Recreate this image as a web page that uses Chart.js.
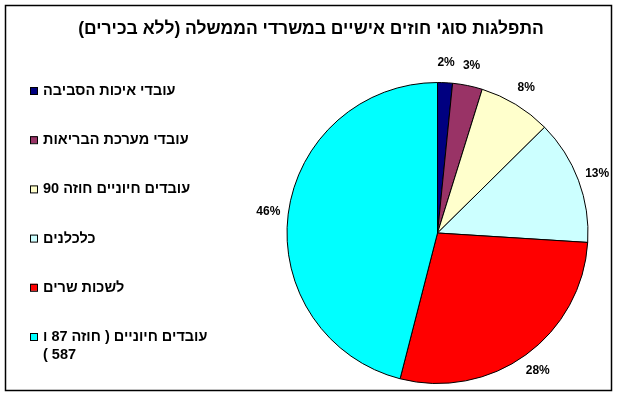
<!DOCTYPE html>
<html lang="he">
<head>
<meta charset="UTF-8" />
<title>התפלגות סוגי חוזים אישיים</title>
<script src="https://cdn.jsdelivr.net/npm/chart.js"></script>
<style>
  html, body { margin: 0; padding: 0; background: #fff; }
  canvas { display: block; direction: rtl; }
</style>
</head>
<body>
<canvas id="pie" width="619" height="397"></canvas>
<script>
const title = "התפלגות סוגי חוזים אישיים במשרדי הממשלה (ללא בכירים)";
const labels = [
  "עובדי איכות הסביבה",
  "עובדי מערכת הבריאות",
  "עובדים חיוניים חוזה 90",
  "כלכלנים",
  "לשכות שרים",
  "עובדים חיוניים ( חוזה 87 ו 587 )"
];
const shares = [1.6, 3.2, 7.8, 13.4, 28.0, 46.0];
const colors = ["#000080", "#993366", "#FFFFCC", "#CCFFFF", "#FF0000", "#00FFFF"];

const FONT = "Arial, 'Liberation Sans', sans-serif";

// title, frame, legend on the left and % labels round the pie
const decorations = {
  id: "decorations",
  beforeDraw(chart) {
    const ctx = chart.ctx;
    ctx.save();
    ctx.fillStyle = "#fff";
    ctx.fillRect(0, 0, chart.width, chart.height);
    ctx.restore();
  },
  afterDraw(chart) {
    const ctx = chart.ctx;
    ctx.save();
    ctx.strokeStyle = "#000";
    ctx.lineWidth = 1.5;
    ctx.strokeRect(5.5, 5.5, 606, 385);

    ctx.direction = "rtl";
    ctx.fillStyle = "#000";
    ctx.textBaseline = "middle";
    ctx.font = "bold 17.5px " + FONT;
    ctx.textAlign = "center";
    ctx.fillText(title, 311, 29);

    // legend
    ctx.font = "bold 14.5px " + FONT;
    ctx.textAlign = "left";
    labels.forEach((txt, i) => {
      const y = 91 + i * 49.2;
      ctx.fillStyle = colors[i];
      ctx.fillRect(30, y - 4, 7, 7);
      ctx.strokeStyle = "#000";
      ctx.lineWidth = 1;
      ctx.strokeRect(30.5, y - 3.5, 7, 7);
      ctx.fillStyle = "#000";
      const words = txt.split(" ");
      const lines = [];
      let cur = "";
      words.forEach(w => {
        const test = cur ? cur + " " + w : w;
        if (cur && ctx.measureText(test).width > 180) {
          lines.push(cur);
          cur = w;
        } else {
          cur = test;
        }
      });
      lines.push(cur);
      lines.forEach((ln, k) => ctx.fillText(ln, 43, y + k * 18));
    });

    // percentage labels
    const meta = chart.getDatasetMeta(0);
    const total = shares.reduce((a, b) => a + b, 0);
    ctx.font = "bold 12px " + FONT;
    ctx.textAlign = "center";
    ctx.direction = "ltr";
    ctx.fillStyle = "#000";
    meta.data.forEach((arc, i) => {
      const p = arc.getProps(["x", "y", "startAngle", "endAngle", "outerRadius"], true);
      const mid = (p.startAngle + p.endAngle) / 2;
      const r = p.outerRadius + 20;
      ctx.fillText(Math.round(shares[i] / total * 100) + "%",
        p.x + Math.cos(mid) * r, p.y + Math.sin(mid) * r);
    });
    ctx.restore();
  }
};

new Chart(document.getElementById("pie"), {
  type: "pie",
  data: {
    labels: labels,
    datasets: [{
      data: shares,
      backgroundColor: colors,
      borderColor: "#000",
      borderWidth: 1
    }]
  },
  options: {
    responsive: false,
    animation: false,
    layout: { padding: { left: 286, right: 30, top: 82, bottom: 13 } },
    plugins: {
      legend: { display: false },
      title: { display: false },
      tooltip: { enabled: false }
    }
  },
  plugins: [decorations]
});
</script>
</body>
</html>
